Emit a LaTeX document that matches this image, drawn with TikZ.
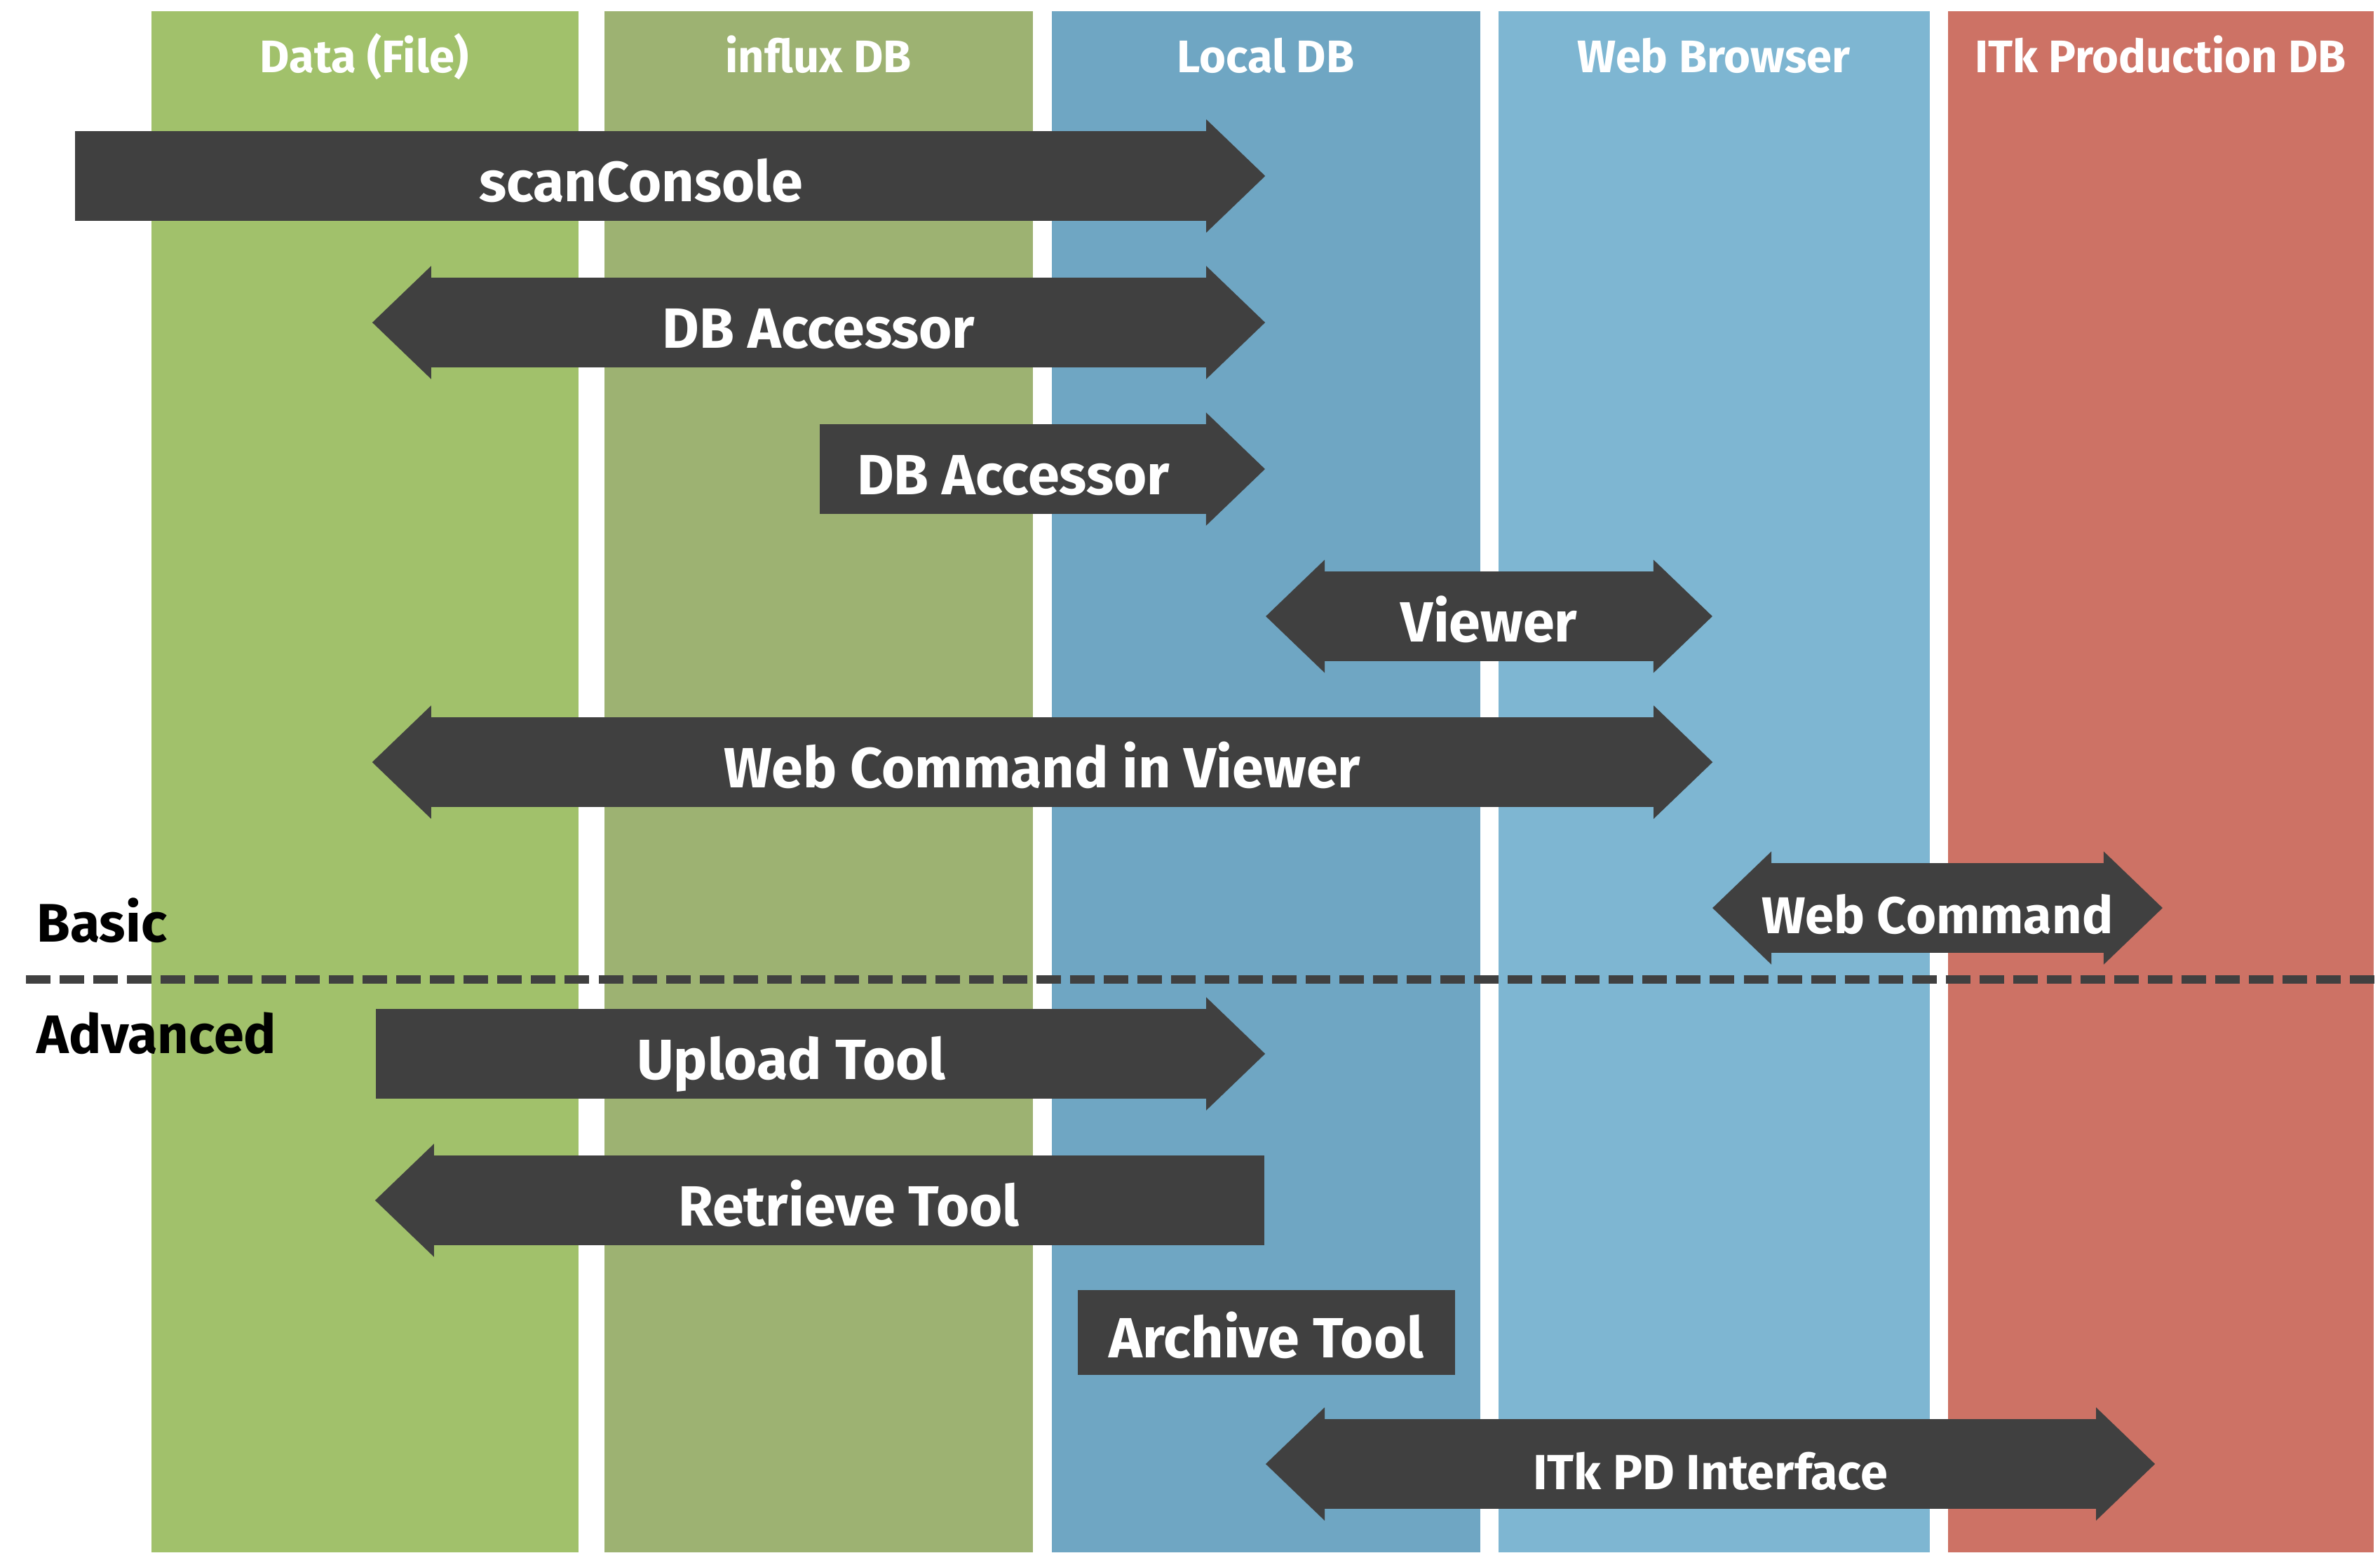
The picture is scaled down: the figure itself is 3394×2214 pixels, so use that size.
\documentclass[tikz,border=0pt]{standalone}
\usepackage{fontspec}
\setmainfont{Fira Sans}

\definecolor{lanedata}{HTML}{A1C16B}
\definecolor{laneinflux}{HTML}{9DB272}
\definecolor{lanelocal}{HTML}{6FA6C3}
\definecolor{laneweb}{HTML}{7EB6D2}
\definecolor{laneitk}{HTML}{CD7265}
\definecolor{bargray}{HTML}{404040}

\pgfdeclarelayer{lanes}
\pgfdeclarelayer{tips}
\pgfsetlayers{lanes,tips,main}

\tikzset{
	bar/.style={fill=bargray,text=white,font=\bfseries\fontsize{23}{23}\selectfont,
		minimum height=1.28cm,inner sep=0pt,text height=0.72cm,text depth=0pt},
	lanetitle/.style={text=white,font=\bfseries\fontsize{18.5}{18.5}\selectfont,anchor=base},
	level/.style={font=\bfseries\fontsize{22}{22}\selectfont,anchor=base west},
}
% arrow heads hung on a bar node, kept under the text
\newcommand{\tipright}[1]{\begin{pgfonlayer}{tips}\fill[bargray] ([xshift=-0.02cm,yshift=0.16cm]#1.north east) -- ([xshift=0.82cm]#1.east) -- ([xshift=-0.02cm,yshift=-0.16cm]#1.south east) -- cycle;\end{pgfonlayer}}
\newcommand{\tipleft}[1]{\begin{pgfonlayer}{tips}\fill[bargray] ([xshift=0.02cm,yshift=0.16cm]#1.north west) -- ([xshift=-0.82cm]#1.west) -- ([xshift=0.02cm,yshift=-0.16cm]#1.south west) -- cycle;\end{pgfonlayer}}

\begin{document}
\begin{tikzpicture}[x=0.01cm,y=-0.01cm]
	\useasboundingbox (0,0) rectangle (3394,2214);

	\begin{pgfonlayer}{lanes}
	\fill[lanedata] (216,16) rectangle (825,2214);
	\fill[laneinflux] (862,16) rectangle (1473,2214);
	\fill[lanelocal] (1500,16) rectangle (2111,2214);
	\fill[laneweb] (2137,16) rectangle (2752,2214);
	\fill[laneitk] (2778,16) rectangle (3385,2214);
	\end{pgfonlayer}

	\node [lanetitle](hdata) at (520,103) {Data (File)};
	\node [lanetitle](hinflux) at (1167,103) {influx DB};
	\node [lanetitle](hlocal) at (1805,103) {Local DB};
	\node [lanetitle](hweb) at (2444,103) {Web Browser};
	\node [lanetitle](hitk) at (3081,103) {ITk Production DB};

	\node [bar,minimum width=16.14cm](scan) at (914,251) {scanConsole};
	\tipright{scan}
	\node [bar,minimum width=11.07cm](acc) at (1167.5,460) {DB Accessor};
	\tipleft{acc} \tipright{acc}
	\node [bar,minimum width=5.52cm](accb) at (1445,669) {DB Accessor};
	\tipright{accb}
	\node [bar,minimum width=4.71cm](viewer) at (2123.5,879) {Viewer};
	\tipleft{viewer} \tipright{viewer}
	\node [bar,minimum width=17.45cm](webview) at (1486.5,1087) {Web Command in Viewer};
	\tipleft{webview} \tipright{webview}
	\node [bar,minimum width=4.76cm,inner xsep=-0.3cm,font=\bfseries\fontsize{21}{21}\selectfont](webcmd) at (2763,1295) {Web Command};
	\tipleft{webcmd} \tipright{webcmd}

	\node [level](basic) at (40,1343) {Basic};
	\draw [bargray,line width=0.12cm,dash pattern=on 0.35cm off 0.13cm] (37,1397) -- (3394,1397);
	\node [level](advanced) at (40,1502) {Advanced};

	\node [bar,minimum width=11.85cm](upload) at (1128.5,1503) {Upload Tool};
	\tipright{upload}
	\node [bar,minimum width=11.85cm](retrieve) at (1210.5,1712) {Retrieve Tool};
	\tipleft{retrieve}
	\node [bar,minimum width=5.38cm,minimum height=1.21cm](archive) at (1806,1900) {Archive Tool};
	\node [bar,minimum width=11.02cm,font=\bfseries\fontsize{20}{20}\selectfont](itkpd) at (2439,2088) {ITk PD Interface};
	\tipleft{itkpd} \tipright{itkpd}
\end{tikzpicture}
\end{document}
